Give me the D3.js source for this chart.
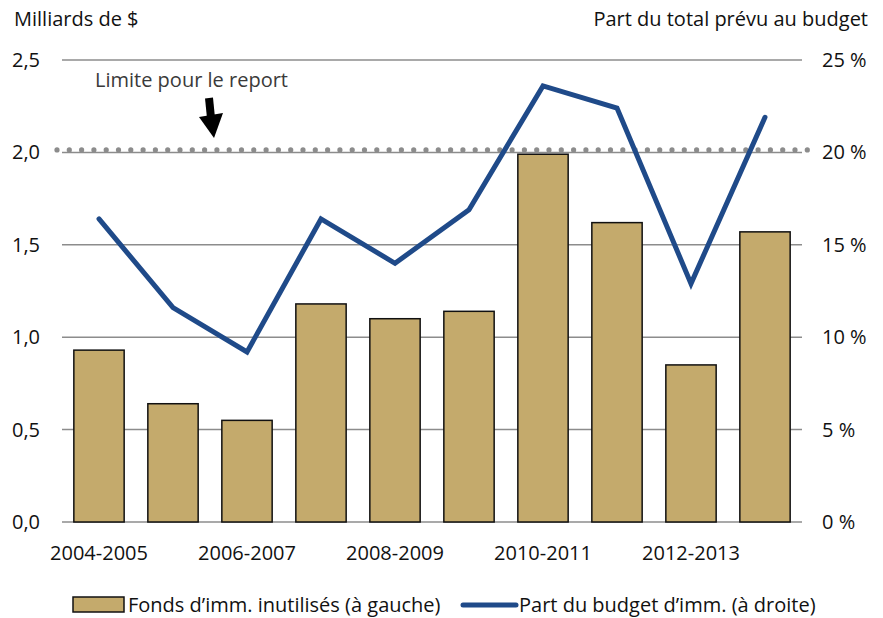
<!DOCTYPE html>
<html>
<head>
<meta charset="utf-8">
<script src="https://cdn.jsdelivr.net/npm/d3@7"></script>
<style>
  body { margin: 0; background: #fff; }
  svg text { font-family: "Open Sans", "Noto Sans", sans-serif; fill: #111; }
</style>
</head>
<body>
<svg id="chart" width="883" height="618"></svg>
<script>
// Fiscal years
const years = ["2004-2005","2005-2006","2006-2007","2007-2008","2008-2009",
               "2009-2010","2010-2011","2011-2012","2012-2013","2013-2014"];
// Unused capital funds, billions of dollars (left axis)
const unusedFunds = [0.93, 0.64, 0.55, 1.18, 1.10, 1.14, 1.99, 1.62, 0.85, 1.57];
// Share of capital budget, percent (right axis)
const budgetShare = [16.4, 11.6, 9.2, 16.4, 14.0, 16.9, 23.6, 22.4, 12.9, 21.9];
// Tick labels
const leftTicks = [0, 0.5, 1.0, 1.5, 2.0, 2.5];
const rightTicks = [0, 5, 10, 15, 20, 25];
const carryForwardLimit = 2.0;

const svg = d3.select("#chart");
const plot = { left: 62, right: 802, top: 60, bottom: 522 };
const fs = 20;

const x = d3.scaleBand().domain(years).range([plot.left, plot.right]).paddingInner(0.32).paddingOuter(0.16);
const yL = d3.scaleLinear().domain([0, 2.5]).range([plot.bottom, plot.top]);
const yR = d3.scaleLinear().domain([0, 25]).range([plot.bottom, plot.top]);
const fmtL = v => d3.format(".1f")(v).replace(".", ",");

// Gridlines
svg.append("g").selectAll("line").data(leftTicks).join("line")
  .attr("x1", plot.left).attr("x2", plot.right)
  .attr("y1", d => yL(d)).attr("y2", d => yL(d))
  .attr("stroke", "#8c8c8c").attr("stroke-width", 1.5);

// Left axis labels
svg.append("g").selectAll("text").data(leftTicks).join("text")
  .attr("x", 40).attr("y", d => yL(d)).attr("dy", "0.35em")
  .attr("text-anchor", "end").attr("font-size", fs).text(fmtL);

// Right axis labels
svg.append("g").selectAll("text").data(rightTicks).join("text")
  .attr("x", 822).attr("y", d => yR(d)).attr("dy", "0.35em")
  .attr("text-anchor", "start").attr("font-size", fs).text(d => d + " %");

// Axis titles
svg.append("text").attr("x", 14).attr("y", 26).attr("font-size", fs).text("Milliards de $");
svg.append("text").attr("x", 868).attr("y", 26).attr("text-anchor", "end").attr("font-size", fs)
  .text("Part du total prévu au budget");

// Bars
svg.append("g").selectAll("rect").data(unusedFunds).join("rect")
  .attr("x", (d, i) => x(years[i]))
  .attr("width", x.bandwidth())
  .attr("y", d => yL(d))
  .attr("height", d => yL(0) - yL(d))
  .attr("fill", "#c4aa6c").attr("stroke", "#111").attr("stroke-width", 1.5);

// Carry-forward limit: dotted marker along the 2,0 gridline
const dotXs = d3.range(57, 808, 12.3);
svg.append("g").selectAll("circle").data(dotXs).join("circle")
  .attr("cx", d => d).attr("cy", yL(carryForwardLimit) - 2.5).attr("r", 2.6)
  .attr("fill", "#8c8c8c");

// Budget share line
const line = d3.line()
  .x((d, i) => x(years[i]) + x.bandwidth() / 2)
  .y(d => yR(d));
svg.append("path").datum(budgetShare)
  .attr("d", line).attr("fill", "none")
  .attr("stroke", "#1f4a89").attr("stroke-width", 5)
  .attr("stroke-linejoin", "miter").attr("stroke-linecap", "round");

// X axis labels (every other year)
svg.append("g").selectAll("text").data(years.filter((d, i) => i % 2 === 0)).join("text")
  .attr("x", d => x(d) + x.bandwidth() / 2).attr("y", 560)
  .attr("text-anchor", "middle").attr("font-size", fs).text(d => d);

// Annotation
svg.append("text").attr("x", 95).attr("y", 87).attr("font-size", fs)
  .style("fill", "#3a3a3a").text("Limite pour le report");
const arrow = svg.append("g");
arrow.append("line").attr("x1", 209).attr("y1", 98).attr("x2", 211).attr("y2", 118)
  .attr("stroke", "#000").attr("stroke-width", 8);
arrow.append("path").attr("d", "M199,117 L223,113 L214,138 Z").attr("fill", "#000");

// Legend
const lg = svg.append("g");
lg.append("rect").attr("x", 73).attr("y", 597).attr("width", 51).attr("height", 15)
  .attr("fill", "#c4aa6c").attr("stroke", "#111").attr("stroke-width", 1.5);
lg.append("text").attr("x", 128).attr("y", 612).attr("font-size", fs)
  .text("Fonds d’imm. inutilisés (à gauche)");
lg.append("line").attr("x1", 463).attr("x2", 516).attr("y1", 605).attr("y2", 605)
  .attr("stroke", "#1f4a89").attr("stroke-width", 5).attr("stroke-linecap", "round");
lg.append("text").attr("x", 519).attr("y", 612).attr("font-size", fs)
  .text("Part du budget d’imm. (à droite)");
</script>
</body>
</html>
